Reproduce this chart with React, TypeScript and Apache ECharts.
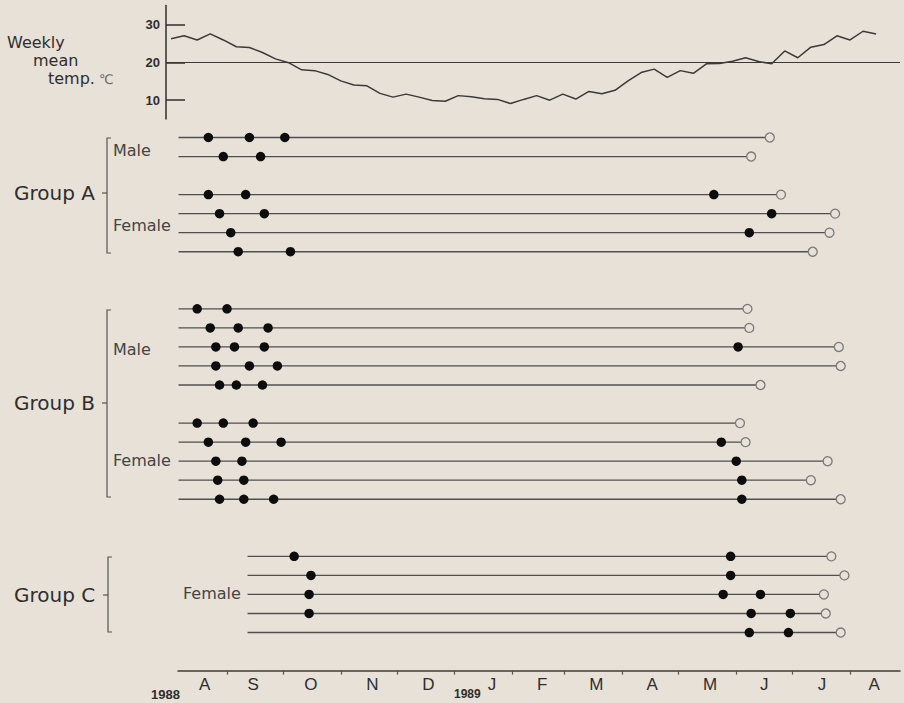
import React, { useEffect, useRef } from "react";
import * as echarts from "echarts";

// ---- data (x values are days after 1 Aug 1988) ----
const weeklyTemp = [
  26.2, 27.0, 25.9, 27.5, 25.9, 24.1, 23.9, 22.6, 20.9, 19.9, 18.0, 17.8, 16.8, 15.1, 14.0, 13.8, 11.8, 10.8, 11.6,
  10.8, 9.9, 9.7, 11.2, 10.9, 10.4, 10.2, 9.1, 10.2, 11.2, 10.0, 11.6, 10.3, 12.3, 11.7, 12.6, 15.1, 17.3,
  18.2, 16.0, 17.8, 17.1, 19.6, 19.7, 20.3, 21.2, 20.2, 19.6, 23.0, 21.2, 24.0, 24.7, 27.0, 25.9, 28.2, 27.5,
];
const firstWeekDay = 1;
const weekStep = 7;

const tempTicks = [10, 20, 30];
const referenceTemp = 20;

const monthStartDays = [31, 61, 92, 122, 153, 184, 212, 243, 273, 304, 334, 365];
const monthMidDays = [19, 45, 76, 109, 139, 173, 200, 229, 259, 290, 319, 350, 378];
const monthLabels = ["A", "S", "O", "N", "D", "J", "F", "M", "A", "M", "J", "J", "A"];

// rows: slot (vertical position), start day, end day (open circle), event days (filled dots)
const groupASlots = [0, 1, 3, 4, 5, 6];
const groupAStart = [5, 5, 5, 5, 5, 5];
const groupAEnd = [322, 312, 328, 357, 354, 345];
const groupAEvents = [
  [21, 43, 62],
  [29, 49],
  [21, 41, 292],
  [27, 51, 323],
  [33, 311],
  [37, 65],
];

const groupBSlots = [9, 10, 11, 12, 13, 15, 16, 17, 18, 19];
const groupBStart = [5, 5, 5, 5, 5, 5, 5, 5, 5, 5];
const groupBEnd = [310, 311, 359, 360, 317, 306, 309, 353, 344, 360];
const groupBEvents = [
  [15, 31],
  [22, 37, 53],
  [25, 35, 51, 305],
  [25, 43, 58],
  [27, 36, 50],
  [15, 29, 45],
  [21, 41, 60, 296],
  [25, 39, 304],
  [26, 40, 307],
  [27, 40, 56, 307],
];

const groupCSlots = [22, 23, 24, 25, 26];
const groupCStart = [42, 42, 42, 42, 42];
const groupCEnd = [355, 362, 351, 352, 360];
const groupCEvents = [
  [67, 301],
  [76, 301],
  [75, 297, 317],
  [75, 312, 333],
  [311, 332],
];

const BG = "#e8e1d8";
const INK = "#2e2e2e";
const FONT = "'DejaVu Sans', 'Liberation Sans', sans-serif";

export default function App() {
  const ref = useRef<HTMLDivElement>(null);

  useEffect(() => {
    document.body.style.margin = "0";
    document.body.style.background = BG;
    const chart = echarts.init(ref.current!, null, { renderer: "svg" });

    const slots = [...groupASlots, ...groupBSlots, ...groupCSlots];
    const starts = [...groupAStart, ...groupBStart, ...groupCStart];
    const ends = [...groupAEnd, ...groupBEnd, ...groupCEnd];
    const events = [...groupAEvents, ...groupBEvents, ...groupCEvents];

    const lifelineData = slots.map((s, i) => [starts[i], ends[i], s]);
    const eventData: number[][] = [];
    events.forEach((ev, i) => ev.forEach((d) => eventData.push([d, slots[i]])));
    const endData = slots.map((s, i) => [ends[i], s]);
    const tempData = weeklyTemp.map((t, i) => [firstWeekDay + weekStep * i, t]);

    const txt = (text: string, x: number, y: number, size: number, fill = INK, extra: any = {}) => ({
      type: "text",
      x,
      y,
      silent: true,
      style: {
        text,
        fill,
        fontSize: size,
        fontFamily: FONT,
        textAlign: "left",
        textVerticalAlign: "middle",
        ...extra,
      },
    });
    const bracket = (x: number, y1: number, y2: number, ym: number) => [
      {
        type: "polyline",
        silent: true,
        shape: { points: [[x + 4, y1], [x, y1], [x, y2], [x + 4, y2]] },
        style: { stroke: "#555", lineWidth: 1.2, fill: "none" },
      },
      {
        type: "line",
        silent: true,
        shape: { x1: x - 5, y1: ym, x2: x, y2: ym },
        style: { stroke: "#555", lineWidth: 1.2 },
      },
    ];

    const option: any = {
      animation: false,
      backgroundColor: BG,
      grid: [
        { left: 166, right: 4, top: 5.5, bottom: 583.9 },
        { left: 178, right: 4, top: 118.46, bottom: 32.4 },
      ],
      xAxis: [
        { gridIndex: 0, type: "value", min: -1.716, max: 391.8, show: false },
        {
          gridIndex: 1,
          type: "value",
          min: 4.72,
          max: 391.8,
          axisLine: { show: true, onZero: false, lineStyle: { color: "#3d3d3d", width: 1.5 } },
          axisTick: { show: true, customValues: monthStartDays, length: 4, lineStyle: { color: "#555", width: 1.2 } },
          axisLabel: {
            customValues: monthMidDays,
            formatter: (v: number) => {
              const k = monthMidDays.indexOf(v);
              return k >= 0 ? monthLabels[k] : "";
            },
            fontSize: 17,
            color: INK,
            margin: 5,
            fontFamily: "'Liberation Sans', sans-serif",
          },
          splitLine: { show: false },
        },
      ],
      yAxis: [
        {
          gridIndex: 0,
          type: "value",
          min: 5,
          max: 35,
          axisLine: { show: true, onZero: false, lineStyle: { color: INK, width: 1.5 } },
          axisTick: { show: true, inside: true, length: 19, customValues: tempTicks, lineStyle: { color: INK, width: 1.5 } },
          axisLabel: {
            customValues: tempTicks,
            fontSize: 13,
            fontWeight: "bold",
            color: INK,
            margin: 6,
            fontFamily: "'Liberation Sans', sans-serif",
          },
          splitLine: { show: false },
        },
        { gridIndex: 1, type: "value", min: -1, max: 28, inverse: true, show: false },
      ],
      series: [
        {
          type: "line",
          xAxisIndex: 0,
          yAxisIndex: 0,
          data: tempData,
          symbol: "none",
          showSymbol: false,
          lineStyle: { color: "#3a3a3a", width: 1.5 },
          silent: true,
          markLine: {
            silent: true,
            symbol: "none",
            label: { show: false },
            lineStyle: { type: "solid", color: "#3a3a3a", width: 1.2 },
            data: [{ yAxis: referenceTemp }],
          },
        },
        {
          type: "custom",
          xAxisIndex: 1,
          yAxisIndex: 1,
          data: lifelineData,
          encode: { x: [0, 1], y: 2 },
          silent: true,
          renderItem: (_p: any, api: any) => {
            const a = api.coord([api.value(0), api.value(2)]);
            const b = api.coord([api.value(1), api.value(2)]);
            return {
              type: "line",
              shape: { x1: a[0], y1: a[1], x2: b[0], y2: b[1] },
              style: { stroke: "#4f4f4f", lineWidth: 1.3 },
            };
          },
        },
        {
          type: "scatter",
          xAxisIndex: 1,
          yAxisIndex: 1,
          data: eventData,
          symbol: "circle",
          symbolSize: 9.5,
          silent: true,
          itemStyle: { color: "#0d0d0d", opacity: 1 },
        },
        {
          type: "scatter",
          xAxisIndex: 1,
          yAxisIndex: 1,
          data: endData,
          symbol: "circle",
          symbolSize: 9,
          silent: true,
          itemStyle: { color: BG, borderColor: "#7a7a7a", borderWidth: 1.3, opacity: 1 },
        },
      ],
      graphic: [
        txt("Weekly", 7, 42, 16),
        txt("mean", 33, 60, 16),
        txt("temp.", 48, 78, 16),
        txt("℃", 99, 79, 13, "#666"),
        txt("1988", 151, 694, 13, INK, { fontWeight: "bold", fontFamily: "'Liberation Sans', sans-serif" }),
        txt("1989", 454, 694, 12, INK, { fontWeight: "bold", fontFamily: "'Liberation Sans', sans-serif" }),
        txt("Group A", 14, 193, 20),
        txt("Male", 113, 150, 16, "#444"),
        txt("Female", 113, 225, 16, "#444"),
        txt("Group B", 14, 403, 20),
        txt("Male", 113, 349, 16, "#444"),
        txt("Female", 113, 460, 16, "#444"),
        txt("Group C", 14, 595, 20),
        txt("Female", 183, 593, 16, "#444"),
        ...bracket(107, 138, 253, 193),
        ...bracket(107, 310, 497, 403),
        ...bracket(108, 557, 632, 595),
      ],
    };

    chart.setOption(option);
    return () => chart.dispose();
  }, []);

  return <div ref={ref} style={{ width: 904, height: 703, background: BG }} />;
}
